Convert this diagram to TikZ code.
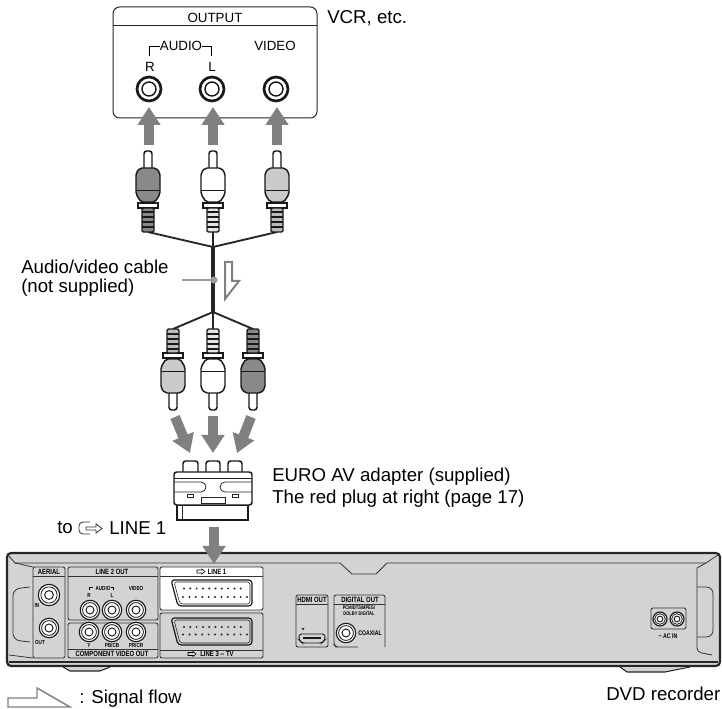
\documentclass[tikz,border=0pt]{standalone}
\usepackage{fontspec}
\setmainfont{Liberation Sans}
\newfontfamily\narrowfont[FakeStretch=0.78]{Liberation Sans}
\usetikzlibrary{arrows.meta}
\definecolor{flowgrey}{HTML}{808080}
\definecolor{bodygrey}{HTML}{D2D3D4}
\definecolor{darkplug}{HTML}{8A8A8A}
\definecolor{lightplug}{HTML}{CBCBCB}

\begin{document}
\begin{tikzpicture}[
x=0.75pt, y=-0.75pt,
textlabel/.style={inner sep=0pt, anchor=west, font=\fontsize{14}{16}\selectfont},
boxlabel/.style={inner sep=0pt, font=\fontsize{10}{12}\selectfont},
panellabel/.style={inner sep=0pt, font=\fontsize{5.7}{6.5}\selectfont\narrowfont\bfseries},
tinylabel/.style={inner sep=0pt, font=\fontsize{4.4}{5.2}\selectfont\narrowfont\bfseries},
outline/.style={line width=0.75pt, draw=black!85},
panel/.style={line width=0.65pt, draw=black!80, rounded corners=1.5pt},
adapter/.style={line width=1.1pt, draw=black!90},
cable/.style={line width=1.4pt, black!85},
mainline/.style={line width=2.4pt, black!85},
flow/.style={line width=7.5pt, flowgrey, -{Triangle[width=16.5pt,length=13.5pt]}},
hollow/.style={line width=1.5pt, draw=flowgrey, fill=white, line join=miter},
jack/.pic={
  \draw[line width=2pt, black!90, fill=white] (0,0) circle (12);
  \draw[line width=1.1pt, black!90] (0,0) circle (7);
},
smalljack/.pic={
  \draw[line width=0.85pt, black!90, fill=white] (0,0) circle (9.7);
  \draw[line width=0.6pt, black!90] (0,0) circle (7.4);
  \draw[line width=0.7pt, black!90] (0,0) circle (4);
},
pics/rca/.style={code={
  \draw[line width=1.1pt, black!90, fill=white, rounded corners=2pt] (-4,20) -- (-4,1) -- (4,1) -- (4,20);
  \draw[line width=1.1pt, black!90, fill=#1, line join=round, rounded corners=1.5pt]
    (-8,18) -- (8,18) -- (12,23) -- (12,44) -- (7,52) -- (-7,52) -- (-12,44) -- (-12,23) -- cycle;
  \draw[line width=0.6pt, black!90] (-12,40) -- (12,40);
  \draw[line width=1.1pt, black!90, fill=white] (-10,53) rectangle (10,58);
  \draw[line width=1.1pt, black!90, fill=#1!80!gray, rounded corners=1pt] (-6,58) rectangle (6,82);
  \foreach \rib in {62,67,72,77} \draw[line width=0.9pt, black!90] (-6,\rib) -- (6,\rib);
}},
]

\useasboundingbox (0,0) rectangle (722,709);

\draw[outline, rounded corners=5pt] (113,7) rectangle (317,118);
\draw[outline] (113,26) -- (317,26);
\node[boxlabel] (output) at (215,18) {OUTPUT};
\node[boxlabel] (audio) at (181,46) {AUDIO};
\node[boxlabel] (video) at (275,46) {VIDEO};
\node[boxlabel] (rlabel) at (150,67) {R};
\node[boxlabel] (llabel) at (212,67) {L};
\draw[line width=0.6pt] (149.5,56) -- (149.5,46) -- (160,46);
\draw[line width=0.6pt] (211.5,56) -- (211.5,46) -- (202,46);
\node[textlabel] (vcr) at (327,18) {VCR, etc.};

\pic at (149,89) {jack};
\pic at (212,89) {jack};
\pic at (276,89) {jack};

\coordinate (fromR) at (149,145);
\coordinate (toR) at (149,107);
\coordinate (fromL) at (213,145);
\coordinate (toL) at (213,107);
\coordinate (fromV) at (277,145);
\coordinate (toV) at (277,107);
\draw[flow] (fromR) -- (toR);
\draw[flow] (fromL) -- (toL);
\draw[flow] (fromV) -- (toV);

\coordinate (joinA) at (213,247);
\coordinate (joinB) at (213,312);
\coordinate (upR) at (148,232);
\coordinate (upL) at (213,232);
\coordinate (upV) at (277,232);
\coordinate (downV) at (173,329);
\coordinate (downL) at (213,329);
\coordinate (downR) at (253,329);
\draw[cable] (upR) -- (joinA);
\draw[cable] (upL) -- (joinA);
\draw[cable] (upV) -- (joinA);
\draw[mainline] (joinA) -- (joinB);
\draw[cable] (joinB) -- (downV);
\draw[cable] (joinB) -- (downL);
\draw[cable] (joinB) -- (downR);

\pic at (148,150) {rca=darkplug};
\pic at (213,150) {rca=white};
\pic at (277,150) {rca=lightplug};
\pic[yscale=-1] at (173,411) {rca=lightplug};
\pic[yscale=-1] at (213,411) {rca=white};
\pic[yscale=-1] at (253,411) {rca=darkplug};

\node[textlabel] (cablelabel) at (21,267) {Audio/video cable};
\node[textlabel] (cablenote) at (21,288) {(not supplied)};
\coordinate (cablemark) at (214,280);
\coordinate (markend) at (182,280);
\draw[line width=1.1pt, flowgrey!80] (markend) -- (cablemark);
\fill[flowgrey!80] (cablemark) circle (3.5);
\draw[hollow] (225,262) -- (232,262) -- (232,281) -- (239,281) -- (225,299) -- cycle;

\coordinate (leftfrom) at (175,417);
\coordinate (leftto) at (190,453);
\coordinate (midfrom) at (213,416);
\coordinate (midto) at (213,453);
\coordinate (rightfrom) at (251,417);
\coordinate (rightto) at (237,453);
\draw[flow] (leftfrom) -- (leftto);
\draw[flow] (midfrom) -- (midto);
\draw[flow] (rightfrom) -- (rightto);

\draw[adapter, rounded corners=2pt, fill=white] (183,473) -- (183,461) -- (198,461) -- (198,473);
\draw[adapter, rounded corners=2pt, fill=white] (206,473) -- (206,461) -- (220,461) -- (220,473);
\draw[adapter, rounded corners=2pt, fill=white] (228,473) -- (228,461) -- (242,461) -- (242,473);
\draw[adapter, fill=white] (177,505) rectangle (248,520);
\draw[outline, line width=0.6pt] (182,505) -- (182,520);
\draw[adapter, rounded corners=2pt, fill=white] (174,472) rectangle (252,505);
\draw[outline, line width=0.6pt] (174,478) -- (252,478);
\draw[outline, line width=0.6pt] (174,482) -- (201,482) arc (-90:90:5) -- (174,492);
\draw[outline, line width=0.6pt] (252,482) -- (225,482) arc (270:90:5) -- (252,492);
\draw[outline, line width=0.5pt] (187,494) rectangle (193,497);
\draw[outline, line width=0.5pt] (232,494) rectangle (238,497);
\draw[outline, line width=0.5pt] (201,497) rectangle (225,503);
\node[textlabel] (eurolabel) at (272,477) {EURO AV adapter (supplied)};
\node[textlabel] (redplug) at (272,499) {The red plug at right (page 17)};

\node[textlabel] (tolabel) at (57,528) {to};
\node[textlabel] (linelabel) at (109,528) {LINE 1};
\draw[line width=0.6pt, black!80, rounded corners=3pt] (90,534) -- (79,534) -- (79,522) -- (90,522);
\draw[line width=0.6pt, black!80, fill=white] (86,527) -- (96,527) -- (96,524) -- (102,528.5) -- (96,533) -- (96,530) -- (86,530) -- cycle;

\draw[line width=1.6pt, black!85, fill=bodygrey, rounded corners=3pt] (7,666) -- (7,553) -- (720,553) -- (720,666) -- cycle;
\draw[line width=0.6pt, black!80] (15,563) -- (340,563) -- (352,574) -- (376,574) -- (387,563) -- (706,563);
\draw[line width=0.6pt, black!80] (8,555) -- (15,563) -- (33,567);
\draw[line width=0.6pt, black!80] (718,555) -- (706,563) -- (697,568);
\draw[line width=1pt, black!85] (9,662) -- (718,662);
\draw[line width=0.8pt, black!85, fill=bodygrey] (63,667) -- (70,671) -- (100,671) -- (110,667);
\draw[line width=0.8pt, black!85, fill=bodygrey] (620,667) -- (627,672) -- (665,672) -- (690,667);
\draw[line width=0.6pt, black!80, rounded corners=3pt] (697,568) -- (697,652) -- (712,655);
\draw[line width=0.6pt, black!80, rounded corners=5pt] (697,587) -- (713,587) -- (713,637) -- (697,637);
\draw[line width=0.6pt, black!80, rounded corners=5pt] (30,587) -- (13,589) -- (13,640) -- (30,642);
\draw[line width=0.6pt, black!80] (9,655) -- (33,658);

\draw[panel] (33,658) rectangle (65,567);
\draw[panel] (33,576) -- (65,576);
\node[panellabel] (aeriallabel) at (49,571.5) {AERIAL};
\pic[scale=1.1] at (49,595) {smalljack};
\pic at (49,628) {smalljack};
\node[tinylabel] (inlabel) at (37,605) {IN};
\node[tinylabel] (outlabel) at (40,642) {OUT};

\draw[panel] (68,620) rectangle (158,567);
\draw[panel] (68,576) -- (158,576);
\node[panellabel] (linetwo) at (112,571.5) {LINE 2 OUT};
\node[tinylabel] (audiotwo) at (103,588.5) {AUDIO};
\draw[line width=0.3pt] (89,590) -- (89,587.5) -- (93,587.5);
\draw[line width=0.3pt] (113,590) -- (113,587.5) -- (111,587.5);
\node[tinylabel] (videotwo) at (136,588.5) {VIDEO};
\node[tinylabel] (rtwo) at (89,595.5) {R};
\node[tinylabel] (ltwo) at (112,595.5) {L};
\pic at (90,610) {smalljack};
\pic at (112,610) {smalljack};
\pic at (136,610) {smalljack};

\draw[panel] (68,658) rectangle (158,623);
\draw[panel] (68,649) -- (158,649);
\pic at (89,632) {smalljack};
\pic at (112,632) {smalljack};
\pic at (136,632) {smalljack};
\node[tinylabel] (ylabel) at (89,645) {Y};
\node[tinylabel] (pblabel) at (112,645) {PB/CB};
\node[tinylabel] (prlabel) at (136,645) {PR/CR};
\node[panellabel] (component) at (112,654) {COMPONENT VIDEO OUT};

\draw[panel, fill=white] (160,610) rectangle (263,567);
\draw[panel] (160,576) -- (263,576);
\node[panellabel] (lineone) at (217,571.5) {LINE 1};
\draw[line width=0.4pt] (197,570) -- (202,570) -- (202,569) -- (205,571.5) -- (202,574) -- (202,573) -- (197,573) -- cycle;
\draw[panel] (160,658) rectangle (263,613);
\draw[panel] (160,650) -- (263,650);
\node[panellabel] (linethree) at (217,654) {LINE 3 -- TV};
\draw[line width=0.4pt] (188,652.5) -- (193,652.5) -- (193,651.5) -- (196,654) -- (193,656.5) -- (193,655.5) -- (188,655.5) -- cycle;

\draw[line width=0.9pt, black!90, fill=white, rounded corners=2.5pt] (171,580) -- (252,580) -- (252,606) -- (178,606) -- cycle;
\draw[line width=0.4pt, black!90, rounded corners=2pt] (174,582) -- (250,582) -- (250,604) -- (180,604) -- cycle;
\draw[line width=0.9pt, black!90, fill=bodygrey, rounded corners=2.5pt] (171,618) -- (252,618) -- (252,645) -- (178,645) -- cycle;
\draw[line width=0.4pt, black!90, rounded corners=2pt] (174,620) -- (250,620) -- (250,643) -- (180,643) -- cycle;
\foreach \col in {0,...,9} {
  \fill[black!85] (184+6.3*\col,588.5) circle (1.1);
  \fill[black!85] (184+6.3*\col,627) circle (1.1);
}
\foreach \col in {0,...,10} {
  \fill[black!85] (183+6.4*\col,597) circle (1.1);
  \fill[black!85] (183+6.4*\col,634.5) circle (1.1);
}

\draw[panel] (296,647) rectangle (328,595);
\draw[panel] (296,604) -- (328,604);
\node[panellabel] (hdmilabel) at (312,600) {HDMI OUT};
\fill[black!85] (301.5,628) -- (304.5,628) -- (303,630.5) -- cycle;
\draw[line width=0.7pt, rounded corners=2pt, black!90] (299,634) -- (325,634) -- (325,640) -- (322,643) -- (302,643) -- (299,640) -- cycle;
\draw[line width=1.1pt, black!90] (303,638) -- (321,638);

\draw[panel] (358,647) -- (336,647) -- (334,645) -- (334,595) -- (385,595) -- (385,647);
\draw[panel] (334,604) -- (385,604);
\node[panellabel] (digitallabel) at (360,600) {DIGITAL OUT};
\node[tinylabel, font=\fontsize{3.9}{4.6}\selectfont\narrowfont\bfseries] (pcmlabel) at (359,607.5) {PCM/DTS/MPEG/};
\node[tinylabel, font=\fontsize{3.9}{4.6}\selectfont\narrowfont\bfseries] (dolbylabel) at (359,614) {DOLBY DIGITAL};
\pic at (346,633) {smalljack};
\node[tinylabel, font=\fontsize{5}{6}\selectfont\narrowfont\bfseries] (coaxlabel) at (370,633) {COAXIAL};

\draw[panel] (651,608) rectangle (686,629);
\pic[scale=0.72] at (660,619) {smalljack};
\pic[scale=0.72] at (677,619) {smalljack};
\node[tinylabel, font=\fontsize{5}{6}\selectfont\narrowfont\bfseries] (aclabel) at (668,636) {\textasciitilde{} AC IN};

\coordinate (lineabove) at (214,527);
\coordinate (linetip) at (214,564);
\draw[flow] (lineabove) -- (linetip);

\node[textlabel] (dvdlabel) at (606,694) {DVD recorder};
\draw[line width=1.1pt, draw=flowgrey] (8,698) -- (37,698) -- (37,688) -- (70,707) -- (8,707) -- cycle;
\node[textlabel] (signallabel) at (79,699) {: Signal flow};

\end{tikzpicture}
\end{document}
